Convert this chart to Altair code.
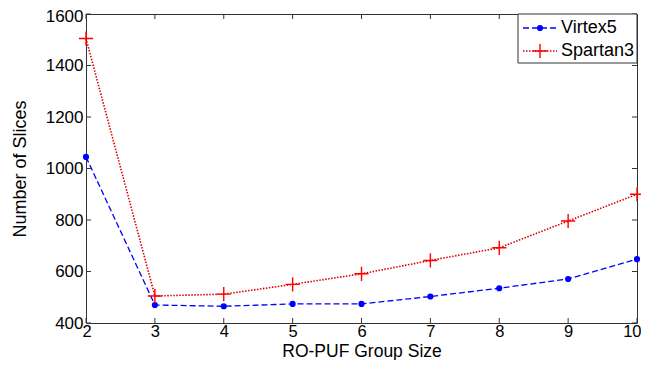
import altair as alt
import pandas as pd

group_size = [2, 3, 4, 5, 6, 7, 8, 9, 10]
virtex5 = [1045, 470, 465, 474, 474, 503, 535, 571, 648]
spartan3 = [1505, 505, 512, 550, 591, 643, 692, 796, 900]
x_ticks = [2, 3, 4, 5, 6, 7, 8, 9, 10]
y_ticks = [400, 600, 800, 1000, 1200, 1400, 1600]

W, H = 551, 309
FONT = "Liberation Sans"
FRAME = "#333333"
PLUS = "M-1,0L1,0M0,-1L0,1"

df = pd.DataFrame({"size": group_size, "Virtex5": virtex5, "Spartan3": spartan3})

xs = alt.Scale(domain=[2, 10], nice=False, zero=False)
ys = alt.Scale(domain=[400, 1600], nice=False, zero=False)

xaxis = alt.Axis(values=x_ticks, format="d", title="RO-PUF Group Size", grid=False, domain=False,
                 ticks=False, labelPadding=0.5, labelFontSize=16.5, titleFontSize=17.5,
                 labelFont=FONT, titleFont=FONT, labelColor="black", titleColor="black",
                 titleFontWeight="normal", titleBaseline="alphabetic", titleY=33.3,
                 labelFlush=True, labelFlushOffset=4, labelOverlap=False)
yaxis = alt.Axis(values=y_ticks, format="d", title="Number of Slices", grid=False, domain=False,
                 ticks=False, labelPadding=3, labelFontSize=17, titleFontSize=18,
                 labelFont=FONT, titleFont=FONT, labelColor="black", titleColor="black",
                 titleFontWeight="normal", titleBaseline="alphabetic", titleX=-61,
                 titleAngle=270, labelFlush=False, labelOverlap=False,
                 labelOffset={"condition": {"test": "datum.value == 1600", "value": 2}, "value": 0})

base = alt.Chart(df)

v_line = base.mark_line(color="#0000ff", strokeDash=[6, 3], strokeWidth=1.3).encode(
    x=alt.X("size:Q", scale=xs, axis=xaxis),
    y=alt.Y("Virtex5:Q", scale=ys, axis=yaxis),
)
v_pts = base.mark_point(color="#0000ff", filled=True, size=38, opacity=1, shape="circle").encode(
    x=alt.X("size:Q", scale=xs), y=alt.Y("Virtex5:Q", scale=ys)
)
s_line = base.mark_line(color="#dd0000", strokeDash=[1.5, 1.5], strokeWidth=1.6).encode(
    x=alt.X("size:Q", scale=xs), y=alt.Y("Spartan3:Q", scale=ys)
)
s_pts = base.mark_point(color="#ff0000", filled=False, shape=PLUS, size=200, strokeWidth=1.4,
                        opacity=1).encode(
    x=alt.X("size:Q", scale=xs), y=alt.Y("Spartan3:Q", scale=ys)
)

xt = alt.Chart(pd.DataFrame({"t": x_ticks}))
yt = alt.Chart(pd.DataFrame({"t": y_ticks}))
tick_style = dict(color=FRAME, strokeWidth=1)
ticks = [
    xt.mark_rule(**tick_style).encode(x=alt.X("t:Q", scale=xs), y=alt.value(H), y2=alt.value(H - 5)),
    xt.mark_rule(**tick_style).encode(x=alt.X("t:Q", scale=xs), y=alt.value(0), y2=alt.value(5)),
    yt.mark_rule(**tick_style).encode(y=alt.Y("t:Q", scale=ys), x=alt.value(0), x2=alt.value(5)),
    yt.mark_rule(**tick_style).encode(y=alt.Y("t:Q", scale=ys), x=alt.value(W), x2=alt.value(W - 5)),
]

one = alt.Chart(alt.Data(values=[{"a": 1}]))
legend = [
    one.mark_rect(fill="white", stroke=FRAME, strokeWidth=1).encode(
        x=alt.value(432), x2=alt.value(W), y=alt.value(0), y2=alt.value(49)),
    one.mark_rule(color="#0000ff", strokeDash=[6, 3], strokeWidth=1.3).encode(
        x=alt.value(437), x2=alt.value(471), y=alt.value(14)),
    one.mark_point(color="#0000ff", filled=True, size=38, opacity=1, shape="circle").encode(
        x=alt.value(454), y=alt.value(14)),
    one.mark_text(align="left", baseline="middle", font=FONT, fontSize=18, color="black").encode(
        x=alt.value(475), y=alt.value(14), text=alt.value("Virtex5")),
    one.mark_rule(color="#dd0000", strokeDash=[1.5, 1.5], strokeWidth=1.6).encode(
        x=alt.value(437), x2=alt.value(471), y=alt.value(37)),
    one.mark_point(color="#ff0000", filled=False, shape=PLUS, size=200, strokeWidth=1.4,
                   opacity=1).encode(x=alt.value(454), y=alt.value(37)),
    one.mark_text(align="left", baseline="middle", font=FONT, fontSize=18, color="black").encode(
        x=alt.value(475), y=alt.value(37), text=alt.value("Spartan3")),
]

chart = alt.layer(s_line, v_line, *ticks, v_pts, s_pts, *legend).properties(
    width=W, height=H,
    autosize=alt.AutoSizeParams(type="none"),
    padding={"left": 78, "top": 6, "right": 4, "bottom": 37},
    background="white",
).configure_view(stroke=FRAME, strokeWidth=1)

chart.save("out.html", embed_options={"renderer": "svg", "actions": False})
